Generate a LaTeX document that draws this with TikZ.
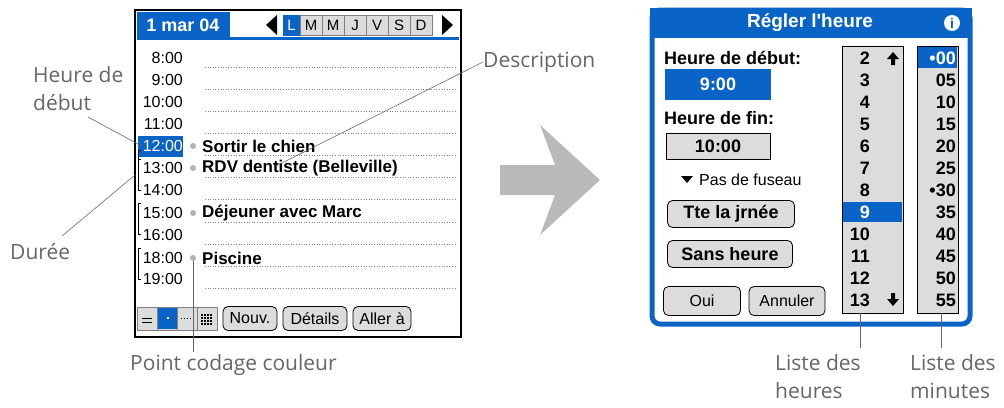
\documentclass[tikz,border=0pt]{standalone}
\usepackage{fontspec}
\setmainfont{Open Sans}
\newfontfamily\palm{Liberation Sans}
\usetikzlibrary{positioning}
\definecolor{palmblue}{HTML}{0A64C8}
\definecolor{btngray}{HTML}{DCDCDC}
\definecolor{labgray}{HTML}{666666}
\tikzset{
  lab/.style={text=labgray,font=\fontsize{21}{28}\selectfont,align=left,inner sep=0pt},
  pointer/.style={draw=labgray,line width=.6pt},
  hour/.style={anchor=east,font=\palm\fontsize{16}{17}\selectfont,inner sep=1pt},
  event/.style={anchor=west,font=\palm\bfseries\fontsize{17}{18}\selectfont,inner sep=0pt},
  dotline/.style={dotted,gray,line width=.6pt},
  pdot/.style={circle,fill=gray!60,inner sep=0pt,minimum size=6pt},
  pbtn/.style={draw,rounded corners=5pt,fill=btngray,line width=.8pt,font=\palm\fontsize{16}{17}\selectfont,inner sep=0pt,minimum height=24pt},
  daybox/.style={draw=gray,fill=btngray,minimum width=22pt,minimum height=20pt,inner sep=0pt,font=\palm\fontsize{15}{16}\selectfont},
  item/.style={anchor=east,font=\palm\bfseries\fontsize{18}{19}\selectfont,inner sep=0pt},
  fld/.style={font=\palm\bfseries\fontsize{18}{19}\selectfont,inner sep=0pt,anchor=west}
}
\begin{document}
\begin{tikzpicture}[x=1pt,y=-1pt]
\useasboundingbox (0,0) rectangle (1004,407);
% left screen
\draw[line width=2pt] (135,10) rectangle (461,337);
\fill[palmblue] (137,12) rectangle (230,37);
\fill[palmblue] (137,37) rectangle (459,40);
\node[text=white,font=\palm\bfseries\fontsize{18}{19}\selectfont] (date) at (183,25) {1 mar 04};
\fill (277,15) -- (266,25) -- (277,35) -- cycle;
\fill (442,15) -- (453,25) -- (442,35) -- cycle;
\node[daybox,fill=palmblue,draw=palmblue,text=white,minimum width=17pt] (dL) at (291.5,25) {L};
\foreach \d [count=\i] in {M,M,J,V,S,D}
  \node[daybox] (d\i) at (289+22*\i,25) {\d};
% hours
\foreach \t/\y in {8:00/58,9:00/80,10:00/102,11:00/124,13:00/168,14:00/190,15:00/213,16:00/235,18:00/258,19:00/279}
  \node[hour] (h\t) at (184,\y) {\t};
\fill[palmblue] (138,136) rectangle (183,157);
\node[hour,text=white] (noon) at (184,146) {12:00};
\foreach \y in {67,89,111,133,155,177,199,222,244,266,288}
  \draw[dotline] (205,\y) -- (456,\y);
\foreach \y in {168,212,257}
  \draw[line width=1pt] (141,\y-9) -- (138,\y-9) -- (138,\y+22) -- (141,\y+22);
\draw[line width=1pt] (141,150) -- (138,150) -- (138,166);
% events
\foreach \e/\y/\n in {Sortir le chien/146/ev1,RDV dentiste (Belleville)/168/ev2,Déjeuner avec Marc/213/ev3,Piscine/258/ev4}{
  \node[pdot] (dot\n) at (193,\y) {};
  \node[event] (\n) at (202,\y) {\e};
}
% toolbar
\foreach \i in {0,...,3}
  \draw[fill=btngray,draw=gray] (137+20*\i,307) rectangle (157+20*\i,330);
\fill[palmblue] (158,308) rectangle (177,329);
\fill[white] (166.5,317) rectangle (168.5,319);
\draw[line width=1pt] (142,322) -- (152,322) (142,318) -- (152,318);
\draw[dotted,line width=1pt] (181,318) -- (193,318);
\foreach \a in {0,...,3} \foreach \b in {0,...,3}
  \fill (201+3*\a,314+3*\b) rectangle (202.5+3*\a,315.5+3*\b);
\node[pbtn,minimum width=54pt] (nouv) at (250,318.5) {Nouv.};
\node[pbtn,minimum width=64pt] (det) at (315,318.5) {Détails};
\node[pbtn,minimum width=58pt] (aller) at (382,318.5) {Aller à};
% left labels
\node[lab,anchor=north west] (hdeb) at (33,66) {Heure de\\début};
\draw[pointer] (88,117) -- (noon.west);
\node[lab,anchor=west] (duree) at (10,252) {Durée};
\coordinate (durEnd) at (135,175);
\draw[pointer] (62,236) -- (durEnd);
\node[lab,anchor=west] (desc) at (483,62) {Description};
\draw[pointer] (desc.west) -- (276,166);
\node[lab,anchor=north west] (pcc) at (130,354) {Point codage couleur};
\draw[pointer] (dotev4) -- (193,352);
% big arrow
\fill[gray!55] (500,165) -- (555,165) -- (540,125) -- (600,180) -- (540,235) -- (555,195) -- (500,195) -- cycle;
% right screen
\draw[palmblue,line width=5pt,rounded corners=8pt,fill=white] (652,10) rectangle (970,324);
\fill[palmblue] (650,8) rectangle (972,38);
\node[text=white,font=\palm\bfseries\fontsize{19}{20}\selectfont] (title) at (810,23) {Régler l'heure};
\fill[white] (952,23) circle (8pt);
\node[text=palmblue,font=\palm\bfseries\fontsize{14}{15}\selectfont] (info) at (952,23) {i};
\node[fld] (deb) at (664,58) {Heure de début:};
\node[fill=palmblue,text=white,minimum width=106pt,minimum height=31pt,inner sep=0pt,font=\palm\bfseries\fontsize{18}{19}\selectfont] (t1) at (718,84) {9:00};
\node[fld] (fin) at (664,118) {Heure de fin:};
\node[draw,line width=1pt,fill=btngray,minimum width=104pt,minimum height=26pt,inner sep=0pt,font=\palm\bfseries\fontsize{18}{19}\selectfont] (t2) at (718,146) {10:00};
\fill (681,176) -- (693,176) -- (687,183) -- cycle;
\node[anchor=west,font=\palm\fontsize{16}{17}\selectfont,inner sep=0pt] (fus) at (699,180) {Pas de fuseau};
\node[pbtn,font=\palm\bfseries\fontsize{18}{19}\selectfont,minimum width=127pt,minimum height=27pt] (tte) at (731,214) {Tte la jrnée};
\node[pbtn,font=\palm\bfseries\fontsize{18}{19}\selectfont,minimum width=125pt,minimum height=27pt] (sans) at (730,254) {Sans heure};
\node[pbtn,font=\palm\fontsize{16}{17}\selectfont,minimum width=77pt,minimum height=29pt] (oui) at (702,301) {Oui};
\node[pbtn,font=\palm\fontsize{16}{17}\selectfont,minimum width=76pt,minimum height=29pt] (ann) at (787,301) {Annuler};
% hour list
\draw[line width=1pt,fill=btngray] (842,46) rectangle (903,313);
\fill[palmblue] (843,202) rectangle (902,222);
\foreach \h/\i in {2/0,3/1,4/2,5/3,6/4,7/5,8/6,10/8,11/9,12/10,13/11}
  \node[item] (hr\h) at (870,58+22*\i) {\h};
\node[item,text=white] (hr9) at (870,212) {9};
\fill (893,52) -- (887,59) -- (891,59) -- (891,65) -- (895,65) -- (895,59) -- (899,59) -- cycle;
\fill (893,306) -- (887,299) -- (891,299) -- (891,293) -- (895,293) -- (895,299) -- (899,299) -- cycle;
% minute list
\draw[line width=1pt,fill=btngray] (917,46) rectangle (958,313);
\foreach \m [count=\i] in {05,10,15,20,25,\textbullet30,35,40,45,50,55}
  \node[item] (mn\i) at (956,58+22*\i) {\m};
\fill[palmblue] (918,47) rectangle (957,68);
\node[item,text=white] (mn0) at (956,58) {\textbullet00};
% right labels
\node[lab,anchor=north west] (lh) at (775,354) {Liste des\\heures};
\draw[pointer] (860,313) -- (860,348);
\node[lab,anchor=north west] (lm) at (910,354) {Liste des\\minutes};
\draw[pointer] (941,313) -- (941,348);
\end{tikzpicture}
\end{document}
